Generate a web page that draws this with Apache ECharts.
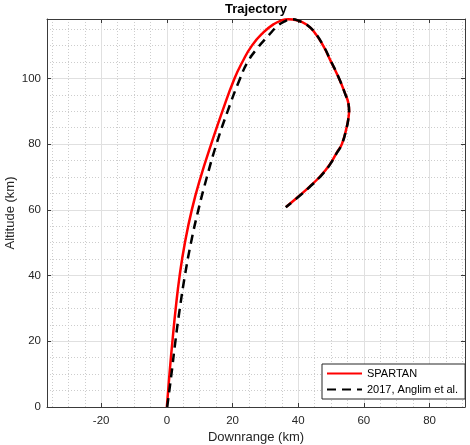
<!DOCTYPE html>
<html>
<head>
<meta charset="utf-8">
<script src="https://cdn.jsdelivr.net/npm/echarts@6/dist/echarts.min.js"></script>
<style>
  html, body { margin: 0; padding: 0; background: #fff; }
  #chart { width: 470px; height: 445px; }
</style>
</head>
<body>
<div id="chart"></div>
<script>
// Downrange / altitude pairs (km) for each trajectory
const spartanTrajectory = [
  [0, 0], [0.8, 10], [1.7, 20], [2.7, 30], [3.9, 40], [5.5, 50], [7.6, 60],
  [10.3, 70], [13.5, 80], [16.9, 90], [20.6, 100], [23.0, 105], [25.9, 110],
  [29.4, 114], [32.5, 116.5], [35.0, 117.7], [37.0, 118.05], [39.6, 117.7],
  [42.4, 116.5], [44.7, 114.4], [47.6, 110.0], [49.8, 105.5], [52.2, 100.5],
  [54.3, 95.4], [55.3, 92.4], [55.5, 90.3], [55.3, 88.0], [54.8, 85.3],
  [53.3, 80.0], [51.8, 77.5], [49.4, 73.5], [46.5, 70.0], [43.4, 67.0],
  [40.0, 64.0], [36.3, 60.9]
];

const anglimTrajectory = [
  [0.1, 0], [1.4, 10], [2.6, 20], [3.95, 30], [5.5, 40], [7.35, 50], [9.6, 60],
  [12.2, 70], [15.1, 80], [18.5, 90], [22.3, 100], [24.6, 105], [27.4, 109],
  [30.9, 113], [33.5, 115.8], [35.7, 117.3], [38.0, 118.0], [40.3, 117.5],
  [42.7, 116.3], [44.9, 114.2], [47.7, 109.9], [49.9, 105.4], [52.3, 100.4],
  [54.3, 95.3], [55.3, 92.3], [55.5, 90.2], [55.3, 87.9], [54.8, 85.2],
  [53.3, 80.0], [51.8, 77.4], [49.4, 73.4], [46.5, 69.9], [43.4, 66.9],
  [40.0, 63.9], [36.2, 60.8]
];

const seriesNames = ['SPARTAN', '2017, Anglim et al.'];
const xRange = [-36.5, 90.8];
const yRange = [0, 118.1];
const tickStep = 20;

const FONT = '"Liberation Sans", Arial, Helvetica, sans-serif';
const AXIS_COLOR = '#3a3a3a';

function tickLabel(v) {
  const r = Math.round(v);
  return (Math.abs(v - r) < 1e-6 && r % tickStep === 0) ? String(r) : '';
}

function frameAxis(pos, range, extra) {
  const isX = pos === 'bottom' || pos === 'top';
  const base = {
    type: 'value',
    position: pos,
    min: range[0],
    max: range[1],
    nameMoveOverlap: false,
    axisLine: { show: true, onZero: false, lineStyle: { color: AXIS_COLOR, width: 1 } },
    axisTick: { show: true, inside: true, length: 4, lineStyle: { color: AXIS_COLOR, width: 1 } },
    axisLabel: { show: false },
    splitLine: { show: false },
    minorSplitLine: { show: false }
  };
  if (isX) base.splitNumber = 6; else base.interval = tickStep;
  return Object.assign(base, extra || {});
}

const chart = echarts.init(document.getElementById('chart'), null, { renderer: 'canvas' });

chart.setOption({
  animation: false,
  backgroundColor: '#ffffff',
  textStyle: { fontFamily: FONT },
  grid: { left: 47, right: 5, top: 19, bottom: 38, containLabel: false, outerBoundsMode: 'none' },
  xAxis: [
    frameAxis('bottom', xRange, {
      name: 'Downrange (km)',
      nameLocation: 'middle',
      nameGap: 24,
      nameTextStyle: { fontSize: 13, color: '#262626', fontFamily: FONT },
      axisLabel: {
        show: true, inside: false, margin: 8, fontSize: 11.5, color: '#262626',
        fontFamily: FONT, formatter: tickLabel
      },
      splitLine: { show: true, lineStyle: { color: '#e0e0e0', width: 1, type: 'solid' } },
      minorTick: { show: false, splitNumber: 4 },
      minorSplitLine: { show: true, lineStyle: { color: '#cdcdcd', width: 1, type: [1, 2] } }
    }),
    frameAxis('top', xRange, {
      name: 'Trajectory',
      nameLocation: 'middle',
      nameGap: 3,
      nameTextStyle: { fontSize: 13, fontWeight: 'bold', color: '#000', fontFamily: FONT }
    })
  ],
  yAxis: [
    frameAxis('left', yRange, {
      name: 'Altitude (km)',
      nameLocation: 'middle',
      nameGap: 30,
      nameTextStyle: { fontSize: 13, color: '#262626', fontFamily: FONT },
      axisLabel: {
        show: true, margin: 6, fontSize: 11.5, color: '#262626',
        fontFamily: FONT, formatter: tickLabel
      },
      splitLine: { show: true, lineStyle: { color: '#e0e0e0', width: 1, type: 'solid' } },
      minorTick: { show: false, splitNumber: 4 },
      minorSplitLine: { show: true, lineStyle: { color: '#cdcdcd', width: 1, type: [1, 2] } }
    }),
    frameAxis('right', yRange)
  ],
  legend: {
    orient: 'vertical',
    left: 322,
    top: 364,
    padding: [4, 7, 4, 4],
    itemWidth: 35,
    itemHeight: 10,
    itemGap: 5,
    itemTextGap: 4,
    backgroundColor: '#ffffff',
    borderColor: '#262626',
    borderWidth: 1,
    borderRadius: 0,
    itemStyle: { opacity: 0 },
    textStyle: { fontSize: 11, color: '#000', fontFamily: FONT },
    data: seriesNames
  },
  series: [
    {
      name: seriesNames[0],
      type: 'line',
      xAxisIndex: 0,
      yAxisIndex: 0,
      data: spartanTrajectory,
      showSymbol: false,
      symbol: 'none',
      smooth: 0.5,
      lineStyle: { color: '#ff0000', width: 2.5, type: 'solid' },
      itemStyle: { color: '#ff0000' },
      z: 3
    },
    {
      name: seriesNames[1],
      type: 'line',
      xAxisIndex: 0,
      yAxisIndex: 0,
      data: anglimTrajectory,
      showSymbol: false,
      symbol: 'none',
      smooth: 0.5,
      lineStyle: { color: '#000000', width: 2.5, type: [9, 6] },
      itemStyle: { color: '#000000' },
      z: 4
    }
  ]
});
</script>
</body>
</html>
